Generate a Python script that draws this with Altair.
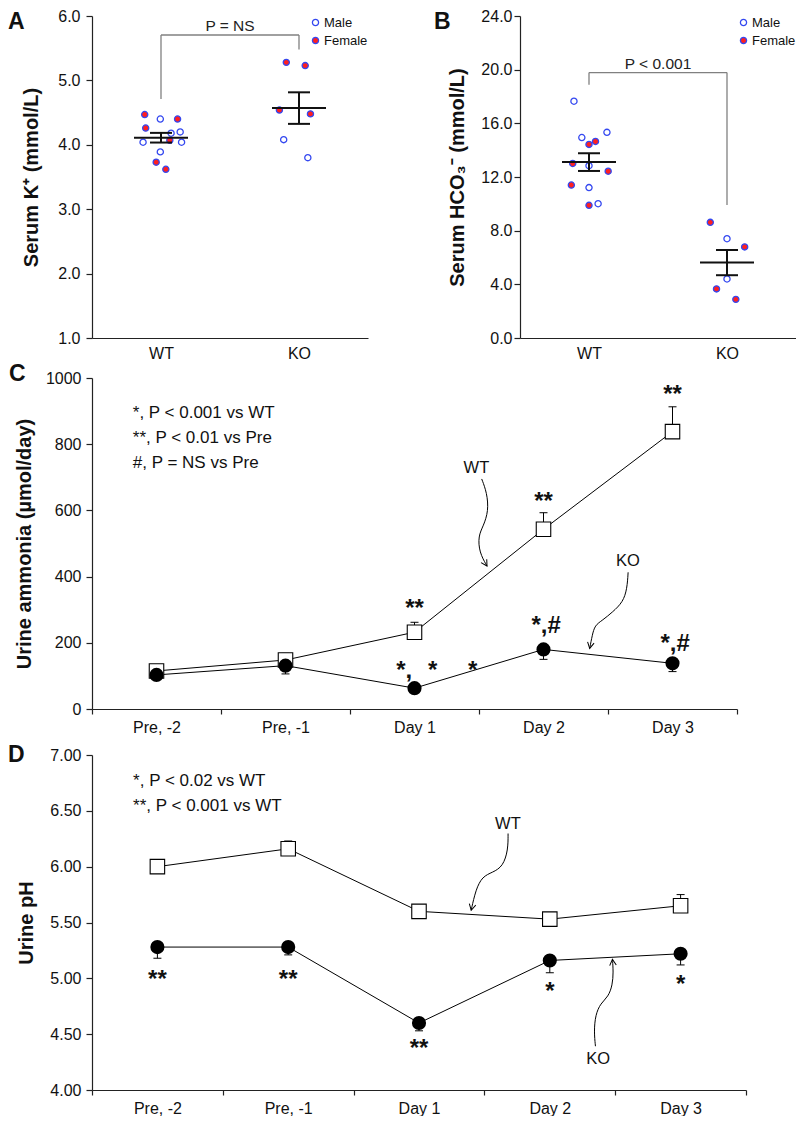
import json
import altair as alt
import pandas as pd

FONT = "Liberation Sans"
BLUE = "#3448f0"
RED = "#ff1f1f"
INK = "#111111"

# ---------------- Panels A / B : individual animals ----------------
groups_ab = ["WT", "KO"]

a_group = ["WT"] * 12 + ["KO"] * 6
a_sex = ["Female", "Male", "Female", "Female", "Male", "Male", "Male", "Female", "Male", "Male", "Female", "Female",
         "Female", "Female", "Female", "Female", "Male", "Male"]
a_value = [4.47, 4.40, 4.40, 4.26, 4.18, 4.20, 4.04, 4.07, 4.04, 3.89, 3.73, 3.62,
           5.28, 5.23, 4.54, 4.48, 4.08, 3.80]
a_jitter = [-0.118, -0.005, 0.120, -0.111, 0.073, 0.139, -0.130, 0.064, 0.149, -0.005, -0.035, 0.035,
            -0.092, 0.045, -0.142, 0.083, -0.111, 0.064]
a_mean = [4.11, 4.57]
a_sem = [0.075, 0.245]
a_bracket_y = 5.705
a_bracket_ends = [4.71, 5.48]
a_p_text = "P = NS"
a_p_y = 5.84

b_group = ["WT"] * 12 + ["KO"] * 6
b_sex = ["Male", "Male", "Male", "Female", "Female", "Female", "Male", "Female", "Female", "Male", "Female", "Male",
         "Female", "Male", "Female", "Male", "Female", "Female"]
b_value = [17.65, 14.94, 15.33, 14.65, 14.43, 13.01, 12.84, 12.43, 11.40, 11.21, 9.89, 10.01,
           8.62, 7.40, 6.79, 4.40, 3.66, 2.88]
b_jitter = [-0.109, -0.052, 0.130, 0.047, 0.0, -0.118, 0.0, 0.139, -0.128, 0.0, 0.0, 0.066,
            -0.121, 0.0, 0.128, 0.0, -0.076, 0.064]
b_mean = [13.11, 5.62]
b_sem = [0.66, 0.94]
b_bracket_y = 19.78
b_bracket_ends = [18.87, 9.91]
b_p_text = "P < 0.001"
b_p_y = 20.44

# ---------------- Panels C / D : time course (mean, SE) ----------------
days = ["Pre, -2", "Pre, -1", "Day 1", "Day 2", "Day 3"]

c_wt = [115, 148, 232, 543, 838]
c_wt_se = [8, 20, 30, 50, 75]
c_ko = [103, 131, 63, 180, 138]
c_ko_se = [8, 25, 8, 30, 25]
c_notes = ["*, P < 0.001 vs WT", "**, P < 0.01 vs Pre", "#, P = NS vs Pre"]
c_notes_x = 0.816
c_notes_y = [895, 820, 743]
c_marks_text = ["**", "**", "**", "*,#", "*,#", "*,", "*", "*"]
c_marks_x = [3, 4, 5, 4.02, 5.02, 2.92, 3.14, 3.45]
c_marks_y = [313, 638, 961, 262, 208, 128, 128, 128]
c_label_text = ["WT", "KO"]
c_label_x = [3.48, 4.655]
c_label_y = [728, 448]
c_wt_arrow_x = [3.521, 3.562, 3.574, 3.534, 3.494, 3.502, 3.562]
c_wt_arrow_y = [695, 653, 598, 553, 523, 473, 432]
c_ko_arrow_x = [4.656, 4.648, 4.616, 4.536, 4.457, 4.398, 4.378, 4.358]
c_ko_arrow_y = [413, 363, 323, 293, 268, 253, 223, 183]
c_arrow_angles = [329, 11]

d_wt = [6.00, 6.16, 5.60, 5.53, 5.65]
d_wt_se = [0.03, 0.07, 0.03, 0.03, 0.10]
d_ko = [5.28, 5.28, 4.60, 5.16, 5.22]
d_ko_se = [0.10, 0.07, 0.07, 0.11, 0.10]
d_notes = ["*, P < 0.02 vs WT", "**, P < 0.001 vs WT"]
d_notes_x = 0.814
d_notes_y = [6.77, 6.547]
d_marks_text = ["**", "**", "**", "*", "*"]
d_marks_x = [1, 2, 3, 4, 5]
d_marks_y = [5.02, 5.02, 4.40, 4.91, 4.98]
d_label_text = ["WT", "KO"]
d_label_x = [3.68, 4.37]
d_label_y = [6.385, 4.275]
d_wt_arrow_x = [3.681, 3.681, 3.642, 3.563, 3.485, 3.434, 3.399]
d_wt_arrow_y = [6.297, 6.149, 6.002, 5.949, 5.913, 5.795, 5.610]
d_ko_arrow_x = [4.349, 4.338, 4.349, 4.388, 4.447, 4.479, 4.486, 4.479]
d_ko_arrow_y = [4.392, 4.525, 4.673, 4.776, 4.835, 4.939, 5.057, 5.170]
d_arrow_angles = [13, 175]


def letter_layer(letter, lx, ly):
    return alt.Chart(pd.DataFrame({"t": [letter]})).mark_text(
        fontSize=23, fontWeight="bold", align="left", baseline="top", color=INK
    ).encode(x=alt.value(lx), y=alt.value(ly), text="t:N")


def ab_panel(letter, letter_dx, group, sex, value, jitter, mean, sem, ydom, yvals, ytitle,
             lab_pad, title_pad, br_y, br_ends, p_text, p_y, W=276, H=322):
    xscale = alt.Scale(domain=[0.5, 2.5], nice=False, zero=False)
    yscale = alt.Scale(domain=ydom, nice=False, zero=False)
    label_expr = json.dumps(groups_ab) + "[round(datum.value) - 1]"
    xaxis = alt.Axis(values=[1, 2], labelExpr=label_expr, title=None, ticks=False, tickSize=0,
                     labelPadding=7, labelFontSize=16, labelFlush=False, labelOverlap=False)
    yaxis = alt.Axis(values=yvals, format=".1f", title=ytitle, titleFontSize=20, titleFontWeight="bold",
                     labelFontSize=16, tickSize=6, labelPadding=lab_pad, titlePadding=title_pad)

    def X(f="x"):
        return alt.X(f"{f}:Q", scale=xscale, axis=xaxis)

    def Y(f="y"):
        return alt.Y(f"{f}:Q", scale=yscale, axis=yaxis)

    pos = {g: i + 1 for i, g in enumerate(groups_ab)}
    pts = pd.DataFrame({"x": [pos[g] + j for g, j in zip(group, jitter)], "y": value, "sex": sex})
    lo = [m - s for m, s in zip(mean, sem)]
    hi = [m + s for m, s in zip(mean, sem)]
    ms = pd.DataFrame({"x": [1, 2], "y": mean, "lo": lo, "hi": hi})
    caps = pd.DataFrame({"x": [1, 1, 2, 2], "y": [lo[0], hi[0], lo[1], hi[1]]})
    br = pd.DataFrame({"x": [1, 1, 2], "x2": [2, 1, 2], "y": [br_y] * 3,
                       "y2": [br_y, br_ends[0], br_ends[1]]})
    pt = pd.DataFrame({"x": [1.5], "y": [p_y], "t": [p_text]})

    bracket = alt.Chart(br).mark_rule(color="#808080", strokeWidth=1.3).encode(
        x=X(), x2="x2:Q", y=Y(), y2="y2:Q")
    ptext = alt.Chart(pt).mark_text(fontSize=15.5, color="#222222", baseline="middle").encode(
        x=X(), y=Y(), text="t:N")
    points = alt.Chart(pts).mark_point(shape="circle", filled=True, size=38, strokeWidth=1.3,
                                       stroke=BLUE, opacity=1).encode(
        x=X(), y=Y(),
        fill=alt.Fill("sex:N", scale=alt.Scale(domain=["Male", "Female"], range=["white", RED]),
                      legend=alt.Legend(title=None, orient="top-right", offset=0, padding=0,
                                        labelFontSize=13, labelFont=FONT, labelColor=INK,
                                        symbolType="circle", symbolSize=38, symbolStrokeColor=BLUE,
                                        symbolStrokeWidth=1.3, rowPadding=4, labelOffset=2,
                                        symbolOpacity=1)))
    sem_rule = alt.Chart(ms).mark_rule(strokeWidth=2, color=INK).encode(x=X(), y=Y("lo"), y2="hi:Q")
    cap_ticks = alt.Chart(caps).mark_tick(orient="horizontal", size=22, thickness=2, color=INK,
                                          opacity=1).encode(x=X(), y=Y())
    mean_ticks = alt.Chart(ms).mark_tick(orient="horizontal", size=54, thickness=2, color=INK,
                                         opacity=1).encode(x=X(), y=Y())
    return alt.layer(bracket, ptext, points, sem_rule, cap_ticks, mean_ticks,
                     letter_layer(letter, letter_dx, -5)).properties(width=W, height=H)


def line_panel(letter, letter_dx, letter_y, W, H, ydom, yvals, yfmt, ytitle, lab_pad, title_pad,
               wt, wt_se, ko, ko_se, notes, notes_x, notes_y, marks_t, marks_x, marks_y,
               lab_t, lab_x, lab_y, arrows):
    xscale = alt.Scale(domain=[0.5, 5.5], nice=False, zero=False)
    yscale = alt.Scale(domain=ydom, nice=False, zero=False)
    edges = [i + 0.5 for i in range(len(days) + 1)]
    # each category label hangs from the right edge of its band, shifted back to the band centre
    label_expr = json.dumps([""] + days) + "[round(datum.value - 0.5)]"
    xaxis = alt.Axis(values=edges, labelExpr=label_expr, labelOffset=-W / 10, title=None, tickSize=5,
                     labelPadding=5, labelFontSize=16, labelFlush=False, labelOverlap=False)
    yaxis = alt.Axis(values=yvals, format=yfmt, title=ytitle, titleFontSize=20, titleFontWeight="bold",
                     labelFontSize=16, tickSize=6, labelPadding=lab_pad, titlePadding=title_pad,
                     labelOverlap=False)

    def X(f="x"):
        return alt.X(f"{f}:Q", scale=xscale, axis=xaxis)

    def Y(f="y"):
        return alt.Y(f"{f}:Q", scale=yscale, axis=yaxis)

    xs = [i + 1 for i in range(len(days))]
    series = pd.DataFrame({"x": xs + xs, "y": wt + ko, "s": ["WT"] * len(xs) + ["KO"] * len(xs)})
    ends = [v + s for v, s in zip(wt, wt_se)] + [v - s for v, s in zip(ko, ko_se)]
    err = pd.DataFrame({"x": xs + xs, "y": wt + ko, "y2": ends})
    caps = pd.DataFrame({"x": xs + xs, "y": ends})
    wt_df = pd.DataFrame({"x": xs, "y": wt})
    ko_df = pd.DataFrame({"x": xs, "y": ko})
    notes_df = pd.DataFrame({"x": [notes_x] * len(notes), "y": notes_y, "t": notes})
    marks_df = pd.DataFrame({"x": marks_x, "y": marks_y, "t": marks_t})
    lab_df = pd.DataFrame({"x": lab_x, "y": lab_y, "t": lab_t})
    path_rows, head_rows = [], []
    for k, (ax, ay, ang) in enumerate(arrows):
        for o, (px, py) in enumerate(zip(ax, ay)):
            path_rows.append({"x": px, "y": py, "o": o, "id": k})
        head_rows.append({"x": ax[-1], "y": ay[-1], "a": ang})
    path_df = pd.DataFrame(path_rows)
    head_df = pd.DataFrame(head_rows)

    lines = alt.Chart(series).mark_line(color="black", strokeWidth=1).encode(x=X(), y=Y(), detail="s:N")
    err_rule = alt.Chart(err).mark_rule(color="black", strokeWidth=1).encode(x=X(), y=Y(), y2="y2:Q")
    err_cap = alt.Chart(caps).mark_tick(orient="horizontal", size=8, thickness=1, color="black",
                                        opacity=1).encode(x=X(), y=Y())
    wt_pts = alt.Chart(wt_df).mark_point(shape="square", filled=True, fill="white", stroke="black",
                                         strokeWidth=1.1, size=210, opacity=1).encode(x=X(), y=Y())
    ko_pts = alt.Chart(ko_df).mark_point(shape="circle", filled=True, color="black", size=200,
                                         opacity=1).encode(x=X(), y=Y())
    notes_l = alt.Chart(notes_df).mark_text(fontSize=17, align="left", baseline="middle", color=INK).encode(
        x=X(), y=Y(), text="t:N")
    marks_l = alt.Chart(marks_df).mark_text(fontSize=24, fontWeight="bold", baseline="alphabetic", dy=11,
                                            color=INK).encode(x=X(), y=Y(), text="t:N")
    lab_l = alt.Chart(lab_df).mark_text(fontSize=16.5, baseline="middle", color=INK).encode(
        x=X(), y=Y(), text="t:N")
    path_l = alt.Chart(path_df).mark_line(color="black", strokeWidth=1, interpolate="basis").encode(
        x=X(), y=Y(), order="o:Q", detail="id:N")
    head_l = alt.Chart(head_df).mark_point(shape="M-0.55,-1L0,0L0.55,-1", filled=False, stroke="black",
                                           strokeWidth=1, size=144, opacity=1).encode(
        x=X(), y=Y(), angle=alt.Angle("a:Q", scale=None))
    return alt.layer(lines, err_rule, err_cap, wt_pts, ko_pts, notes_l, marks_l, lab_l, path_l, head_l,
                     letter_layer(letter, letter_dx, letter_y)).properties(width=W, height=H)


panel_a = ab_panel("A", -84, a_group, a_sex, a_value, a_jitter, a_mean, a_sem, [1, 6],
                   [1, 2, 3, 4, 5, 6], "Serum K⁺ (mmol/L)", 6, 16,
                   a_bracket_y, a_bracket_ends, a_p_text, a_p_y)
panel_b = ab_panel("B", -86, b_group, b_sex, b_value, b_jitter, b_mean, b_sem, [0, 24],
                   [0, 4, 8, 12, 16, 20, 24], "Serum HCO₃⁻ (mmol/L)", 2, 13,
                   b_bracket_y, b_bracket_ends, b_p_text, b_p_y)

panel_c = line_panel("C", -83, -15, 645, 331, [0, 1000], [0, 200, 400, 600, 800, 1000], "d",
                     "Urine ammonia (µmol/day)", 5, 11,
                     c_wt, c_wt_se, c_ko, c_ko_se, c_notes, c_notes_x, c_notes_y,
                     c_marks_text, c_marks_x, c_marks_y, c_label_text, c_label_x, c_label_y,
                     [(c_wt_arrow_x, c_wt_arrow_y, c_arrow_angles[0]),
                      (c_ko_arrow_x, c_ko_arrow_y, c_arrow_angles[1])])
panel_d = line_panel("D", -84, -11, 654, 335, [4, 7], [4.0, 4.5, 5.0, 5.5, 6.0, 6.5, 7.0], ".2f",
                     "Urine pH", 5, 13,
                     d_wt, d_wt_se, d_ko, d_ko_se, d_notes, d_notes_x, d_notes_y,
                     d_marks_text, d_marks_x, d_marks_y, d_label_text, d_label_x, d_label_y,
                     [(d_wt_arrow_x, d_wt_arrow_y, d_arrow_angles[0]),
                      (d_ko_arrow_x, d_ko_arrow_y, d_arrow_angles[1])])

top = alt.hconcat(panel_a, panel_b, spacing=152, bounds="flush").resolve_scale(
    x="independent", y="independent", fill="independent").resolve_legend(fill="independent")
bottom = alt.vconcat(panel_c, panel_d, spacing=46, bounds="flush").resolve_scale(
    x="independent", y="independent")

chart = alt.vconcat(top, bottom, spacing=2).resolve_scale(
    x="independent", y="independent", fill="independent").resolve_legend(
    fill="independent").properties(
    padding={"left": 0, "top": 0, "right": 0, "bottom": 0}).configure(font=FONT).configure_view(
    stroke=None).configure_axis(grid=False, domainColor="#222222", tickColor="#222222",
                                labelColor=INK, titleColor=INK, domainWidth=1.2, tickWidth=1.2)

chart.save("out.html", embed_options={"renderer": "svg", "actions": False})
